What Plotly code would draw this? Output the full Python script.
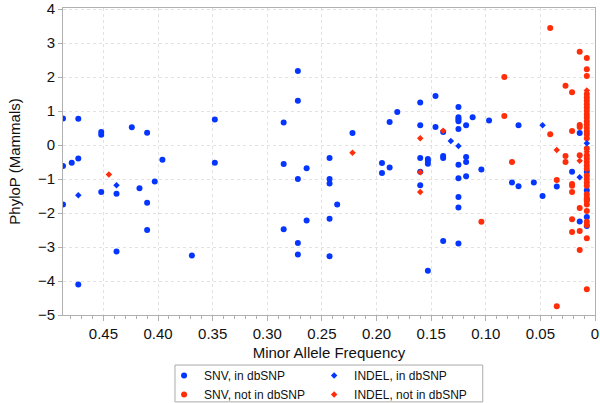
import plotly.graph_objects as go

# ---------------- data ----------------
snv_in_x = [0.487, 0.473, 0.452, 0.452, 0.424, 0.410,
            0.487, 0.479, 0.473, 0.396, 0.403, 0.417, 0.452, 0.438,
            0.487, 0.410, 0.410, 0.438, 0.369, 0.473,
            0.348, 0.348,
            0.272, 0.272, 0.285, 0.222, 0.243, 0.285, 0.264, 0.272, 0.243, 0.243,
            0.236, 0.243, 0.264, 0.285, 0.272, 0.272, 0.243,
            0.195, 0.195, 0.188, 0.188, 0.181,
            0.146, 0.160, 0.125, 0.125, 0.125, 0.125, 0.112, 0.160, 0.146, 0.118, 0.097, 0.125, 0.139,
            0.160, 0.153, 0.153, 0.153, 0.139, 0.139, 0.118, 0.118, 0.125, 0.104, 0.160, 0.125, 0.118,
            0.160, 0.125, 0.125, 0.139, 0.125, 0.153,
            0.070, 0.076, 0.070, 0.056, 0.048, 0.035, 0.014, 0.021, 0.014,
            0.0075, 0.0075, 0.0075, 0.0075, 0.0075]
snv_in_y = [0.78, 0.77, 0.38, 0.30, 0.52, 0.36,
            -0.62, -0.52, -0.40, -0.43, -1.07, -1.27, -1.38, -1.43,
            -1.75, -1.70, -2.50, -3.13, -3.25, -4.10,
            0.75, -0.52,
            2.18, 1.30, 0.66, 0.35, -0.38, -0.56, -0.68, -1.00, -1.00, -1.13,
            -1.75, -2.17, -2.22, -2.48, -2.88, -3.22, -3.27,
            -0.53, -0.82, 0.68, -0.66, 0.97,
            1.44, 1.25, 1.12, 0.82, 0.76, 0.70, 0.82, 0.58, 0.53, 0.58, 0.72, 0.47, 0.38,
            -0.38, -0.41, -0.47, -0.55, -0.32, -0.38, -0.35, -0.50, -0.58, -0.72, -0.79, -0.98, -0.92,
            -1.18, -1.53, -1.84, -2.82, -2.90, -3.70,
            0.58, -1.10, -1.21, -1.10, -1.50, -1.22, 0.35, -0.79, -2.25,
            -0.79, -1.33, -1.60, -2.12, -2.38]

indel_in_x = [0.438, 0.473, 0.132, 0.125, 0.048, 0.014, 0.0075]
indel_in_y = [-1.18, -1.48, 0.12, -0.03, 0.58, -0.95, 0.05]

snv_not_x = [0.083, 0.083, 0.041, 0.041, 0.076, 0.104, 0.035,
             0.027, 0.027, 0.027,
             0.021, 0.021, 0.021, 0.021, 0.021, 0.021, 0.021,
             0.014, 0.014, 0.014, 0.014, 0.014, 0.014, 0.014,
             0.035,
             0.0075, 0.0075, 0.0075, 0.0075, 0.0075, 0.0075, 0.0075, 0.0075, 0.0075,
             0.0075, 0.0075, 0.0075, 0.0075, 0.0075, 0.0075, 0.0075, 0.0075,
             0.0075, 0.0075, 0.0075, 0.0075, 0.0075, 0.0075, 0.0075, 0.0075, 0.0075,
             0.0075, 0.0075, 0.0075, 0.0075, 0.0075, 0.0075, 0.0075, 0.0075, 0.0075, 0.0075]
snv_not_y = [2.00, 0.85, 3.44, 0.32, -0.50, -2.26, -4.74,
             1.74, -0.32, -0.50,
             1.55, 0.41, -1.15, -1.20, -1.38, -2.18, -2.56,
             2.74, 0.59, 0.53, -0.30, -1.85, -2.53, -3.09,
             -1.03,
             2.56, 2.23, 2.03, 1.50, 1.40, 1.30, 1.20, 1.10, 1.00,
             0.90, 0.80, 0.70, 0.60, 0.50, 0.40, 0.32, 0.20,
             -0.30, -0.40, -0.50, -0.60, -0.70, -0.90, -1.00, -1.10, -1.20,
             -1.45, -1.55, -1.65, -1.75, -1.94, -2.26, -2.35, -2.74, -4.24, -0.10]

indel_not_x = [0.445, 0.222, 0.139, 0.160, 0.160, 0.160, 0.035, 0.014, 0.0075, 0.0075]
indel_not_y = [-0.87, -0.23, 0.42, 0.20, -0.80, -1.38, -0.15, -0.46, -0.20, 1.60]

x_tick_vals = [0.45, 0.40, 0.35, 0.30, 0.25, 0.20, 0.15, 0.10, 0.05, 0.0]
x_tick_text = ["0.45", "0.40", "0.35", "0.30", "0.25", "0.20", "0.15", "0.10", "0.05", "0"]

BLUE = "#0436FF"
RED = "#FF2D0A"
FONT = "Liberation Sans, Arial, Helvetica, sans-serif"

fig = go.Figure()
fig.add_trace(go.Scatter(x=snv_in_x, y=snv_in_y, mode="markers", name="SNV, in dbSNP",
                         marker=dict(color=BLUE, size=6, symbol="circle"), legend="legend"))
fig.add_trace(go.Scatter(x=snv_not_x, y=snv_not_y, mode="markers", name="SNV, not in dbSNP",
                         marker=dict(color=RED, size=6, symbol="circle"), legend="legend"))
fig.add_trace(go.Scatter(x=indel_in_x, y=indel_in_y, mode="markers", name="INDEL, in dbSNP",
                         marker=dict(color=BLUE, size=5, symbol="diamond"), legend="legend2"))
fig.add_trace(go.Scatter(x=indel_not_x, y=indel_not_y, mode="markers", name="INDEL, not in dbSNP",
                         marker=dict(color=RED, size=5, symbol="diamond"), legend="legend2"))

axis_common = dict(showline=True, linecolor="#b0b0b0", linewidth=1, mirror=True,
                   showgrid=True, gridcolor="#e2e2e2", griddash="dot", gridwidth=1,
                   zeroline=False, ticks="outside", tickcolor="#b0b0b0", automargin=False,
                   tickfont=dict(family=FONT, size=15, color="#111"))

fig.update_xaxes(range=[0.487, 0.0], tickvals=x_tick_vals, ticktext=x_tick_text, ticklen=5,
                 minor=dict(dtick=0.01, ticks="outside", ticklen=3, tickcolor="#b0b0b0", showgrid=False),
                 title=dict(text="Minor Allele Frequency", font=dict(family=FONT, size=15, color="#111"), standoff=8),
                 **axis_common)
fig.update_yaxes(range=[-5, 4.03], dtick=1, tick0=0, ticklen=4,
                 title=dict(text="PhyloP (Mammals)", font=dict(family=FONT, size=15, color="#111"), standoff=13),
                 **axis_common)

legend_common = dict(orientation="v", yref="container", yanchor="top", y=0.1043,
                     xref="paper", xanchor="left",
                     font=dict(family=FONT, size=12, color="#111"), bgcolor="rgba(0,0,0,0)",
                     borderwidth=0, tracegroupgap=0)
fig.update_layout(
    width=600, height=403,
    margin=dict(l=63, r=5, t=8, b=88),
    plot_bgcolor="white", paper_bgcolor="white",
    font=dict(family=FONT),
    legend=dict(x=0.19, **legend_common),
    legend2=dict(x=0.472, **legend_common),
    shapes=[dict(type="rect", xref="paper", yref="paper", x0=0.2105, x1=0.789, y0=-0.283, y1=-0.163,
                 line=dict(color="#aaaaaa", width=1), fillcolor="rgba(0,0,0,0)", layer="above")],
)

fig.write_html("out.html", config={"displayModeBar": False},
               post_script="document.body.style.margin='0';document.body.style.padding='0';")
